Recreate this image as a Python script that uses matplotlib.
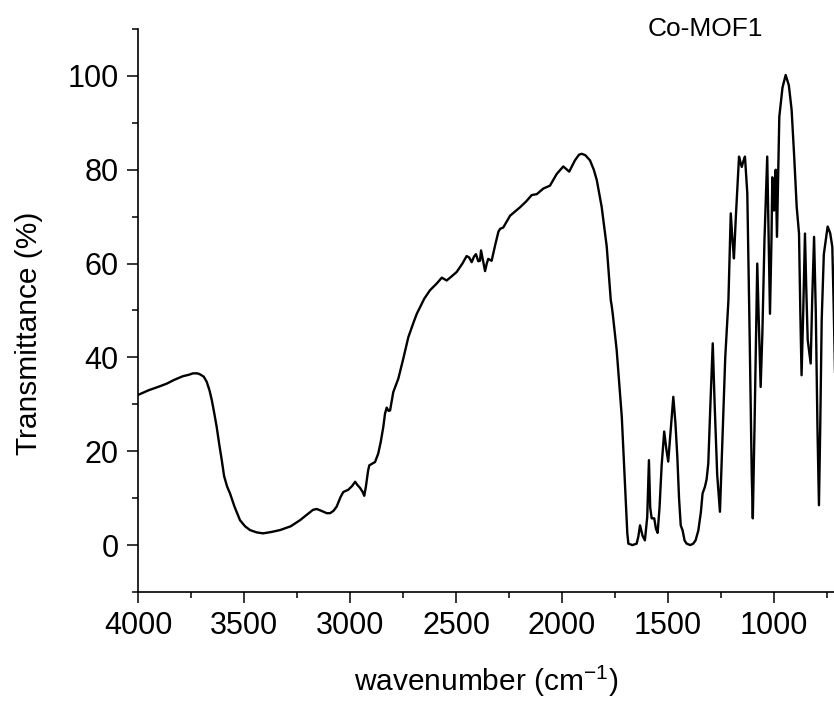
import matplotlib
matplotlib.use("Agg")
import matplotlib.pyplot as plt
from matplotlib.ticker import MultipleLocator

# FTIR spectrum of Co-MOF1
wavenumber = [
    4000, 3950, 3900, 3865, 3830, 3788, 3760, 3741, 3720, 3708, 3690, 3676, 3663, 3652,
    3640, 3629, 3617, 3605, 3594, 3580, 3566, 3545, 3519, 3495, 3472, 3440, 3410, 3370,
    3330, 3280, 3236, 3200, 3175, 3157, 3130, 3110, 3094, 3078, 3063, 3045, 3032, 3008,
    2990, 2976, 2965, 2953, 2940, 2933, 2925, 2915, 2909, 2882, 2867, 2855, 2843, 2835,
    2827, 2818, 2811, 2796, 2772, 2750, 2725, 2700, 2685, 2650, 2623, 2590, 2567, 2544,
    2520, 2497, 2470, 2450, 2438, 2426, 2415, 2406, 2395, 2387, 2382, 2372, 2363, 2355,
    2348, 2332, 2315, 2300, 2292, 2277, 2245, 2198, 2170, 2143, 2119, 2088, 2057, 2025,
    1994, 1966, 1939, 1920, 1907, 1890, 1868, 1850, 1836, 1813, 1789, 1770, 1766, 1761,
    1742, 1718, 1700, 1692, 1687, 1668, 1648, 1640, 1632, 1620, 1609, 1598, 1590, 1584,
    1577, 1565, 1557, 1549, 1540, 1530, 1518, 1508, 1499, 1488, 1475, 1465, 1456, 1448,
    1440, 1431, 1422, 1412, 1395, 1381, 1370, 1357, 1345, 1337, 1326, 1318, 1310, 1300,
    1289, 1280, 1268, 1255, 1245, 1230, 1215, 1204, 1196, 1189, 1180, 1165, 1158, 1152,
    1145, 1137, 1126, 1115, 1105, 1100, 1092, 1082, 1079, 1072, 1063, 1055, 1045, 1032,
    1025, 1019, 1012, 1008, 1004, 1000, 996, 992, 986, 980, 975, 960, 945, 930,
    917, 905, 893, 882, 876, 870, 862, 854, 848, 841, 835, 827, 820, 811,
    803, 795, 788, 782, 775, 765, 747, 735, 725, 719, 716, 710,
]
transmittance = [
    32.0, 33.0, 33.8, 34.4, 35.2, 36.0, 36.3, 36.6, 36.6, 36.4, 35.9, 34.8, 33.0, 30.9,
    28.0, 25.2, 21.5, 18.1, 14.7, 12.5, 11.0, 8.2, 5.3, 4.0, 3.2, 2.7, 2.5, 2.8,
    3.2, 4.0, 5.3, 6.6, 7.5, 7.7, 7.2, 6.8, 6.8, 7.3, 8.2, 10.2, 11.3, 11.8,
    12.6, 13.5, 12.8, 12.2, 11.3, 10.5, 12.5, 15.8, 17.0, 17.7, 19.5, 22.0, 25.2, 28.0,
    29.3, 28.6, 28.7, 32.6, 35.5, 39.5, 44.3, 47.5, 49.3, 52.5, 54.3, 55.8, 57.0, 56.4,
    57.3, 58.2, 60.0, 61.6, 61.3, 60.3, 61.5, 62.0, 60.5, 60.6, 62.8, 60.5, 58.4, 60.0,
    61.0, 60.6, 64.0, 66.8, 67.4, 67.7, 70.2, 72.0, 73.2, 74.6, 74.8, 76.0, 76.6, 79.1,
    80.7, 79.6, 82.0, 83.2, 83.4, 83.1, 82.0, 80.0, 77.8, 72.1, 63.6, 52.2, 51.1, 49.4,
    41.5, 27.3, 10.0, 2.5, 0.3, 0.0, 0.3, 1.8, 4.2, 2.0, 1.0, 6.0, 18.1, 8.0,
    5.7, 5.7, 3.5, 2.6, 8.0, 17.0, 24.2, 20.5, 17.8, 24.0, 31.6, 26.0, 18.8, 10.0,
    4.2, 3.1, 1.0, 0.3, 0.0, 0.3, 1.0, 3.1, 7.0, 11.0, 12.4, 14.0, 17.4, 30.0,
    43.0, 30.0, 15.0, 7.1, 20.0, 40.0, 52.2, 70.7, 65.0, 61.1, 70.0, 82.8, 81.5, 80.6,
    81.8, 82.8, 75.0, 45.0, 15.0, 5.7, 25.0, 52.0, 60.0, 48.0, 33.7, 45.0, 65.0, 82.8,
    65.0, 49.3, 65.0, 78.4, 76.0, 71.3, 76.0, 80.0, 65.7, 80.0, 91.3, 97.5, 100.2, 98.0,
    92.8, 83.0, 72.1, 66.4, 50.0, 36.2, 50.0, 66.4, 55.0, 43.7, 41.5, 38.7, 52.0, 65.7,
    50.0, 25.0, 8.5, 25.0, 48.0, 62.0, 67.9, 66.5, 63.6, 52.0, 45.0, 32.0,
]

plt.rcParams["font.family"] = ["Liberation Sans", "DejaVu Sans"]
plt.rcParams["mathtext.fontset"] = "custom"
plt.rcParams["mathtext.rm"] = "Liberation Sans"
plt.rcParams["mathtext.it"] = "Liberation Sans"

fig = plt.figure(figsize=(8.34, 7.02), dpi=100)
ax = fig.add_axes([0.1655, 0.1567, 0.8345, 0.802])

ax.plot(wavenumber, transmittance, color="black", linewidth=1.7)

ax.set_xlim(4000, 717)
ax.set_ylim(-10, 110)
ax.xaxis.set_major_locator(MultipleLocator(500))
ax.xaxis.set_minor_locator(MultipleLocator(250))
ax.yaxis.set_major_locator(MultipleLocator(20))
ax.yaxis.set_minor_locator(MultipleLocator(10))

ax.spines["top"].set_visible(False)
ax.spines["right"].set_visible(False)
ax.spines["left"].set_linewidth(1.2)
ax.spines["bottom"].set_linewidth(1.2)
ax.tick_params(which="major", direction="out", length=8, width=1.1, labelsize=22, pad=6)
ax.tick_params(which="minor", direction="out", length=4.5, width=1.1)

ax.set_xlabel("wavenumber (cm$^{\\mathregular{-1}}$)", fontsize=21.5)
ax.set_ylabel("Transmittance (%)", fontsize=21.5)
ax.yaxis.set_label_coords(-0.137, 0.46)
ax.xaxis.set_label_coords(0.5, -0.128)

ax.text(1325, 108.5, "Co-MOF1", fontsize=19, ha="center", va="baseline")

fig.savefig("out.png", dpi=100)
